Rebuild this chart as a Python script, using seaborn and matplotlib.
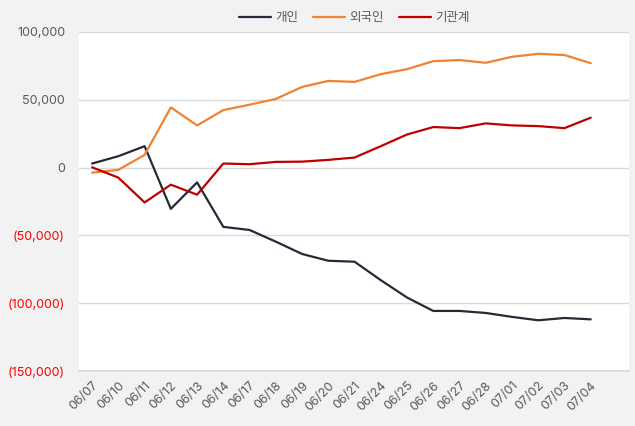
import matplotlib
matplotlib.use("Agg")
import matplotlib.pyplot as plt
import seaborn as sns
import pandas as pd
from matplotlib.ticker import FuncFormatter, FixedLocator

dates = ["06/07", "06/10", "06/11", "06/12", "06/13", "06/14", "06/17", "06/18", "06/19", "06/20",
         "06/21", "06/24", "06/25", "06/26", "06/27", "06/28", "07/01", "07/02", "07/03", "07/04"]
individual = [3000, 8400, 15800, -30400, -10900, -43700, -46000, -54600, -63700, -68700,
              -69400, -83000, -95800, -105700, -105700, -107200, -110100, -112600, -110900, -111900]
foreign = [-3700, -1700, 9400, 44400, 31100, 42400, 46400, 50600, 59500, 63900,
           63200, 68900, 72600, 78500, 79300, 77300, 81700, 83900, 83000, 77000]
institution = [200, -7400, -25700, -12600, -20000, 3000, 2500, 4200, 4400, 5700,
               7400, 15800, 24400, 29900, 29100, 32600, 31100, 30600, 29100, 36800]
series_names = ["개인", "외국인", "기관계"]
colors = ["#232b38", "#f08232", "#c00000"]
yticks = [100000, 50000, 0, -50000, -100000, -150000]

sns.set_theme(style="white")
plt.rcParams['font.family'] = ['Inter', 'Noto Sans CJK KR', 'DejaVu Sans']

rows = []
for name, vals in zip(series_names, [individual, foreign, institution]):
    for i, (d, v) in enumerate(zip(dates, vals)):
        rows.append({"idx": i, "date": d, "series": name, "value": v})
df = pd.DataFrame(rows)

fig = plt.figure(figsize=(6.35, 4.26), dpi=100, facecolor="#f2f2f2")
ax = fig.add_axes([0.1244, 0.1291, 0.8662, 0.7958])
ax.set_facecolor("white")

sns.lineplot(data=df, x="idx", y="value", hue="series", hue_order=series_names,
             palette=colors, linewidth=1.6, ax=ax, legend=True)

ax.set_xlim(-0.5, 20.46)
ax.set_ylim(-150000, 100000)
ax.yaxis.set_major_locator(FixedLocator(yticks))
ax.yaxis.set_major_formatter(FuncFormatter(lambda v, p: f"{int(v):,}" if v >= 0 else f"({int(-v):,})"))
ax.set_xticks(range(len(dates)))
ax.set_xticklabels(dates, rotation=45, ha="right", rotation_mode="anchor")
ax.grid(axis="y", color="#d9d9d9", linewidth=1)
ax.set_axisbelow(True)
for s in ["top", "right", "left"]:
    ax.spines[s].set_visible(False)
ax.spines["bottom"].set_color("#d9d9d9")
ax.tick_params(axis="both", length=0, labelsize=9, colors="#595959")
ax.tick_params(axis="y", pad=10)
ax.tick_params(axis="x", pad=6)
for lbl, v in zip(ax.get_yticklabels(), yticks):
    if v < 0:
        lbl.set_color("#ff0000")
ax.set_xlabel("")
ax.set_ylabel("")

leg = ax.legend(loc="lower center", bbox_to_anchor=(0.5, 1.0), ncol=3, frameon=False,
                fontsize=9, handlelength=2.6, columnspacing=1.2, handletextpad=0.3,
                borderaxespad=0.2)
for t in leg.get_texts():
    t.set_color("#595959")

fig.savefig("out.png", dpi=100, facecolor=fig.get_facecolor())
